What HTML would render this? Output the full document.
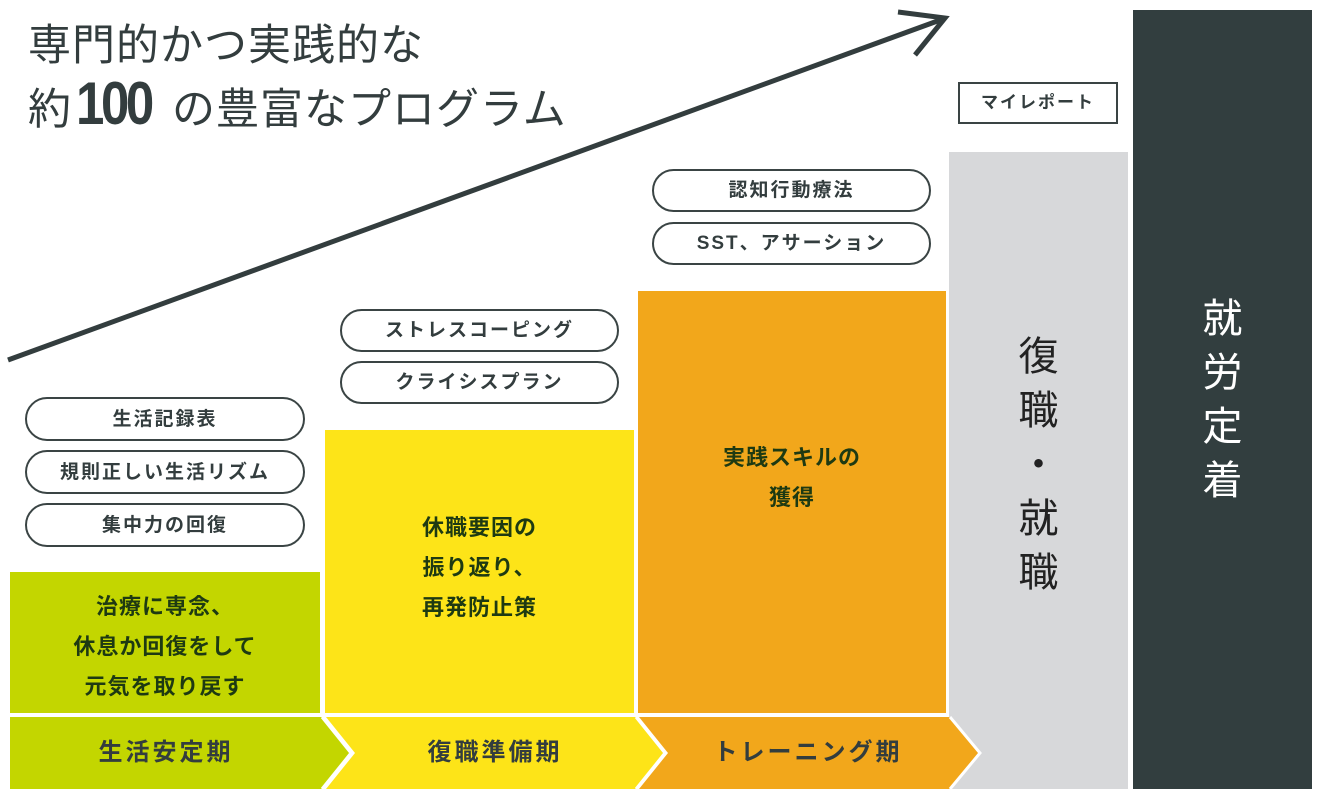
<!DOCTYPE html>
<html><head><meta charset="utf-8"><style>
html,body{margin:0;padding:0;background:#fff;}
body{width:1320px;height:798px;position:relative;overflow:hidden;font-family:"Liberation Sans","Noto Sans CJK JP",sans-serif;color:#333d3e;}
.a{position:absolute;}
.pill{position:absolute;box-sizing:border-box;border:2px solid #3a4444;border-radius:22px;background:#fff;text-align:center;font-weight:bold;font-size:19px;letter-spacing:2px;color:#333d3e;}
.blk{position:absolute;text-align:center;font-weight:bold;font-size:22px;line-height:40px;color:#1e3a12;letter-spacing:1px;}
</style></head><body>
<svg class="a" style="left:0;top:0" width="1320" height="798">
<rect x="10" y="572" width="310" height="141" fill="#c3d600"/>
<rect x="325" y="430" width="309" height="283" fill="#fde418"/>
<rect x="638" y="291" width="308" height="422" fill="#f2a71b"/>
<rect x="949" y="152" width="179" height="637" fill="#d7d8da"/>
<rect x="1133" y="10" width="179" height="779" fill="#323e3f"/>
<polygon points="10,717 322,717 351,753 322,789 10,789" fill="#c3d600"/>
<polygon points="326,717 636,717 665,753 636,789 326,789 355,753" fill="#fde418"/>
<polygon points="639,717 950,717 980,753 950,789 639,789 668,753" fill="#f2a71b"/>
<polyline points="322,717 351,753 322,789" fill="none" stroke="#fff" stroke-width="3"/>
<polyline points="636,717 665,753 636,789" fill="none" stroke="#fff" stroke-width="3"/>
<polyline points="950,717 980,753 950,789" fill="none" stroke="#fff" stroke-width="3"/>
<line x1="8" y1="360" x2="943" y2="19" stroke="#333d3e" stroke-width="5"/>
<polyline points="898,12 945,18 915,55" fill="none" stroke="#333d3e" stroke-width="5" stroke-linejoin="miter"/>
</svg>
<div class="a" style="left:28px;top:18px;font-size:43px;letter-spacing:1px;line-height:56px;white-space:nowrap;">専門的かつ実践的な</div>
<div class="a" style="left:28px;top:76px;font-size:43px;letter-spacing:1px;line-height:56px;white-space:nowrap;">約<span style="display:inline-block;font-size:60px;font-weight:bold;letter-spacing:-4px;margin:0 14px 0 4px;transform:scaleX(0.85);transform-origin:left;width:82px;">100</span>の豊富なプログラム</div>

<div class="a" style="left:958px;top:82px;width:160px;height:42px;box-sizing:border-box;border:2px solid #3a4444;background:#fff;text-align:center;line-height:38px;font-weight:bold;font-size:17px;letter-spacing:2px;">マイレポート</div>

<div class="pill" style="left:25px;top:397px;width:280px;height:44px;line-height:41px;">生活記録表</div>
<div class="pill" style="left:25px;top:450px;width:280px;height:44px;line-height:41px;">規則正しい生活リズム</div>
<div class="pill" style="left:25px;top:503px;width:280px;height:44px;line-height:41px;">集中力の回復</div>
<div class="pill" style="left:340px;top:309px;width:279px;height:43px;line-height:40px;">ストレスコーピング</div>
<div class="pill" style="left:340px;top:361px;width:279px;height:43px;line-height:40px;">クライシスプラン</div>
<div class="pill" style="left:652px;top:169px;width:279px;height:43px;line-height:40px;">認知行動療法</div>
<div class="pill" style="left:652px;top:222px;width:279px;height:43px;line-height:40px;">SST、アサーション</div>

<div class="blk" style="left:10px;top:587px;width:310px;">治療に専念、<br>休息か回復をして<br>元気を取り戻す</div>
<div class="blk" style="left:325px;top:508px;width:309px;">休職要因の<br>振り返り、<br>再発防止策</div>
<div class="blk" style="left:638px;top:438px;width:308px;">実践スキルの<br>獲得</div>

<div class="a" style="left:10px;top:733px;width:312px;text-align:center;font-size:24px;font-weight:bold;letter-spacing:3px;line-height:40px;">生活安定期</div>
<div class="a" style="left:340px;top:733px;width:310px;text-align:center;font-size:24px;font-weight:bold;letter-spacing:3px;line-height:40px;">復職準備期</div>
<div class="a" style="left:650px;top:733px;width:316px;text-align:center;font-size:24px;font-weight:bold;letter-spacing:3px;line-height:40px;">トレーニング期</div>

<div class="a" style="left:949px;top:330px;width:179px;text-align:center;font-size:40px;line-height:54px;color:#222;">復<br>職<br>・<br>就<br>職</div>
<div class="a" style="left:1133px;top:292px;width:179px;text-align:center;font-size:40px;line-height:54px;color:#fff;">就<br>労<br>定<br>着</div>
</body></html>
